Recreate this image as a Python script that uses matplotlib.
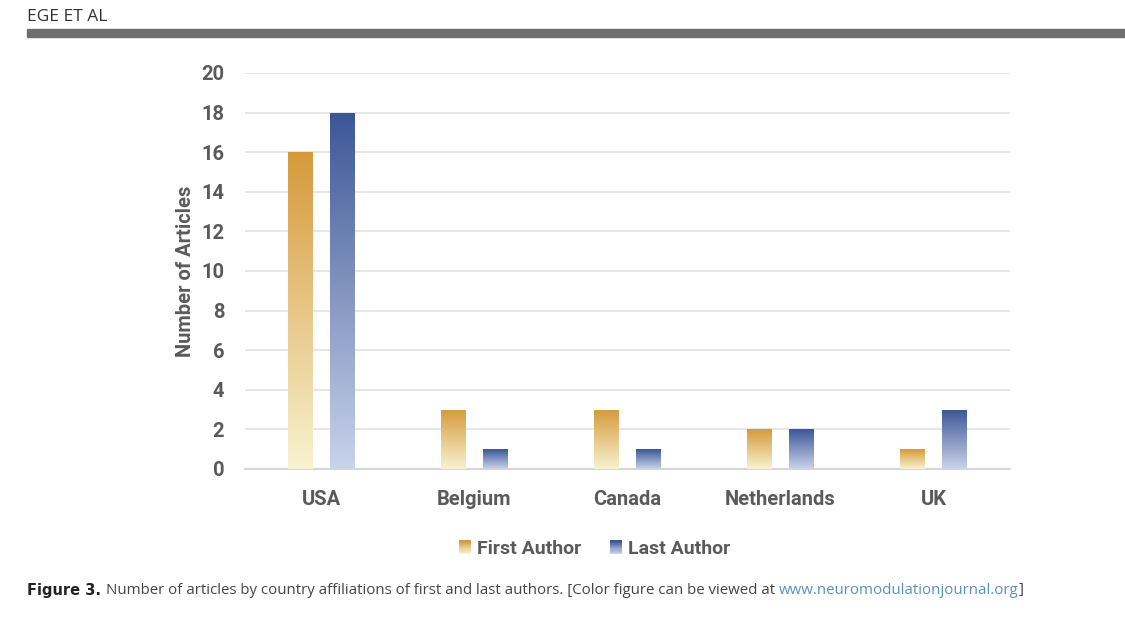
import matplotlib
matplotlib.use("Agg")
import matplotlib.pyplot as plt
from matplotlib.colors import LinearSegmentedColormap
from matplotlib.patches import Rectangle
from matplotlib.legend_handler import HandlerBase
import numpy as np

countries = ["USA", "Belgium", "Canada", "Netherlands", "UK"]
first_author = [16, 3, 3, 2, 1]
last_author = [18, 1, 1, 2, 3]
yticks = list(range(0, 21, 2))

orange = LinearSegmentedColormap.from_list("orange", ["#F8F3D0", "#D69A3C"])
blue = LinearSegmentedColormap.from_list("blue", ["#C9D3EA", "#3C5696"])

font = ["Roboto", "DejaVu Sans"]
gray = "#5a5a5a"

fig = plt.figure(figsize=(11.25, 6.19), dpi=100)

# page header
fig.text(27 / 1125, 1 - 17 / 619, "EGE ET AL", fontsize=12.5, color="#333333",
         family=["Open Sans", "DejaVu Sans"], va="center")
fig.patches.append(Rectangle((27 / 1125, 1 - 37 / 619), 1, 8 / 619,
                             transform=fig.transFigure, color="#6e6e6e", zorder=0))

ax = fig.add_axes([245 / 1125, 1 - 469 / 619, 765 / 1125, 396 / 619])
x = np.arange(len(countries))
w = 0.163
off = 0.137

grad = np.linspace(0, 1, 256).reshape(-1, 1)
for vals, cmap, sign in [(first_author, orange, -1), (last_author, blue, 1)]:
    bars = ax.bar(x + sign * off, vals, w, color="none", edgecolor="none", zorder=3)
    for b in bars:
        x0, y0 = b.get_x(), b.get_y()
        im = ax.imshow(grad, cmap=cmap, origin="lower", aspect="auto",
                       extent=(x0, x0 + b.get_width(), y0, y0 + b.get_height()), zorder=3)
        im.set_clip_path(b)

ax.set_xlim(-0.5, len(countries) - 0.5)
ax.set_ylim(0, 20)
ax.set_yticks(yticks)
ax.set_xticks(x)
ax.set_xticklabels(countries)
ax.grid(axis="y", color="#e2e2e2", linewidth=1.2, zorder=0)
ax.set_axisbelow(True)
for s in ["top", "right", "left"]:
    ax.spines[s].set_visible(False)
ax.spines["bottom"].set_color("#d6d6d6")
ax.spines["bottom"].set_linewidth(1.5)
ax.tick_params(length=0, labelcolor=gray)
ax.tick_params(axis="y", pad=15)
ax.tick_params(axis="x", pad=15)
for lab in ax.get_xticklabels() + ax.get_yticklabels():
    lab.set_family(font)
    lab.set_fontweight("bold")
    lab.set_fontsize(14.5)
ax.set_ylabel("Number of Articles", family=font, fontweight="bold", fontsize=14.5,
              color=gray, labelpad=4)


class HandlerGradient(HandlerBase):
    def __init__(self, cmap):
        super().__init__()
        self.cmap = cmap

    def create_artists(self, legend, orig_handle, xdescent, ydescent, width, height,
                       fontsize, trans):
        n = 12
        arts = []
        for i in range(n):
            r = Rectangle((-xdescent + width - 9, -ydescent + height * i / n), 9, height / n,
                          color=self.cmap(i / (n - 1)), transform=trans, lw=0)
            arts.append(r)
        return arts


h1 = Rectangle((0, 0), 1, 1)
h2 = Rectangle((0, 0), 1, 1)
leg = fig.legend([h1, h2], ["First Author", "Last Author"], loc="center",
                 bbox_to_anchor=(593 / 1125, 1 - 549 / 619), ncol=2, frameon=False,
                 handler_map={h1: HandlerGradient(orange), h2: HandlerGradient(blue)},
                 prop={"family": font, "weight": "bold", "size": 14},
                 handlelength=0.8, handletextpad=0.3, columnspacing=1.3)
for t in leg.get_texts():
    t.set_color(gray)

# caption
cap_y = 1 - 590 / 619
cfont = ["Open Sans", "DejaVu Sans"]
t1 = fig.text(27 / 1125, cap_y, "Figure 3.", fontsize=10.5, fontweight="bold",
              color="#222222", family=["DejaVu Sans"], va="center")
fig.canvas.draw()
r = fig.canvas.get_renderer()
bb = t1.get_window_extent(r)
t2 = fig.text((bb.x1 + 5) / 1125, cap_y,
              "Number of articles by country affiliations of first and last authors. [Color figure can be viewed at ",
              fontsize=10.8, color="#444444", family=cfont, va="center")
bb2 = t2.get_window_extent(r)
t3 = fig.text(bb2.x1 / 1125, cap_y, "www.neuromodulationjournal.org",
              fontsize=10.8, color="#5b8fc4", family=cfont, va="center")
bb3 = t3.get_window_extent(r)
fig.text(bb3.x1 / 1125, cap_y, "]", fontsize=10.8, color="#444444", family=cfont, va="center")

fig.savefig("out.png", dpi=100)
